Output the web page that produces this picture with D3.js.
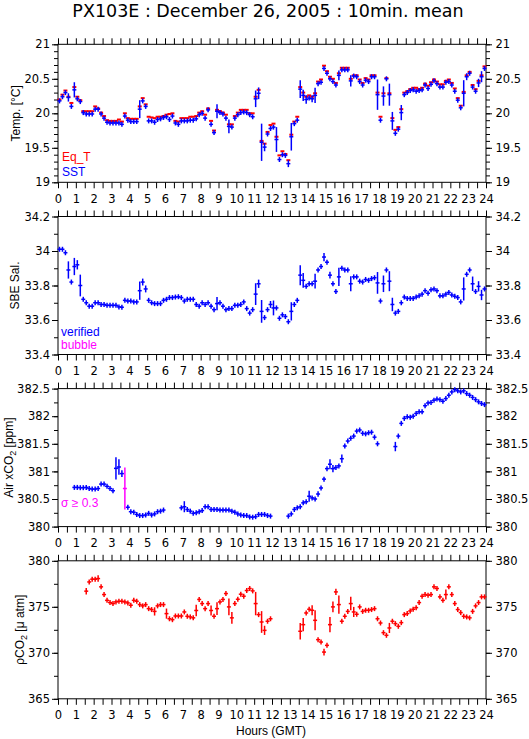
<!DOCTYPE html>
<html>
<head>
<meta charset="utf-8">
<title>PX103E : December 26, 2005 : 10min. mean</title>
<script src="https://cdn.jsdelivr.net/npm/d3@7"></script>
<style>
	body { margin: 0; background: #fff; }
	svg text { font-family: "DejaVu Sans", sans-serif; font-size: 11.5px; }
	svg text.lbl { font-family: "Liberation Sans", Arial, sans-serif; font-size: 12px; }
</style>
</head>
<body>
<script>

//---- DATA : 10 minute means, index i covers hours i/6 .. (i+1)/6 ----//

var hourTicks = d3.range(0, 25);

// equilibrator temperature (red) and sea surface temperature (blue)
var eqT = [
	20.20, 20.27, 20.33, 20.24, 20.15, 20.38, 20.24, 20.19, 20.03, 20.03, 20.03, 20.03,
	20.10, 20.07, 20.01, 19.96, 19.90, 19.89, 19.89, 19.89, 19.91, 19.88, 20.00, 19.93,
	19.92, 19.92, 19.92, 20.10, 20.22, 20.13, 19.95, 19.94, 19.93, 19.95, 19.95, 19.96,
	19.98, 19.99, 20.00, 19.89, 19.88, 19.93, 19.93, 19.93, 19.95, 19.95, 19.96, 20.01,
	20.03, 19.98, 20.07, 19.89, 19.75, 20.05, 20.03, 20.01, 19.98, 19.84, 19.84, 19.96,
	20.01, 20.05, 20.05, 20.05, 20.00, 20.00, 20.24, 20.34, 19.60, 19.56, 19.73, 19.83,
	19.85, 19.66, 19.39, 19.45, 19.41, 19.32, 19.69, 19.88, 19.95, 20.38, 20.30, 20.24,
	20.26, 20.24, 20.29, 20.46, 20.49, 20.69, 20.61, 20.53, 20.50, 20.44, 20.58, 20.66,
	20.66, 20.66, 20.50, 20.55, 20.55, 20.49, 20.44, 20.51, 20.49, 20.55, 20.55, 20.30,
	19.95, 20.29, 20.51, 20.29, 19.93, 19.76, 19.80, 20.06, 20.30, 20.32, 20.35, 20.37,
	20.37, 20.35, 20.37, 20.43, 20.40, 20.45, 20.49, 20.46, 20.42, 20.42, 20.47, 20.49,
	20.44, 20.36, 20.22, 20.11, 20.31, 20.55, 20.60, 20.41, 20.35, 20.47, 20.55, 20.68
];
var sst = [
	20.18, 20.24, 20.30, 20.23, 20.10, 20.34, 20.21, 20.17, 20.01, 19.99, 19.99, 19.99,
	20.06, 20.06, 19.99, 19.93, 19.87, 19.86, 19.86, 19.86, 19.86, 19.84, 19.96, 19.90,
	19.88, 19.88, 19.88, 20.06, 20.18, 20.10, 19.89, 19.89, 19.87, 19.91, 19.92, 19.94,
	19.95, 19.91, 19.96, 19.86, 19.84, 19.89, 19.89, 19.89, 19.90, 19.90, 19.92, 19.98,
	20.00, 19.93, 20.05, 19.84, 19.72, 20.03, 20.01, 19.99, 19.93, 19.81, 19.80, 19.93,
	19.98, 20.01, 20.02, 20.01, 19.98, 19.95, 20.21, 20.29, 19.58, 19.51, 19.70, 19.78,
	19.80, 19.62, 19.33, 19.40, 19.39, 19.27, 19.66, 19.85, 19.90, 20.35, 20.26, 20.20,
	20.22, 20.21, 20.26, 20.43, 20.45, 20.65, 20.58, 20.50, 20.46, 20.41, 20.55, 20.63,
	20.63, 20.63, 20.47, 20.54, 20.53, 20.46, 20.41, 20.48, 20.46, 20.53, 20.53, 20.27,
	19.90, 20.25, 20.50, 20.27, 19.89, 19.71, 19.77, 20.01, 20.27, 20.30, 20.33, 20.34,
	20.32, 20.33, 20.34, 20.41, 20.36, 20.42, 20.47, 20.43, 20.38, 20.38, 20.45, 20.46,
	20.41, 20.32, 20.19, 20.08, 20.29, 20.53, 20.58, 20.38, 20.32, 20.44, 20.53, 20.65
];
// [index, standard deviation] where the spread is larger than the marker
var sstSd = [[3,0.06],[5,0.11],[27,0.13],[53,0.10],[57,0.10],[66,0.12],[67,0.085],[68,0.27],
	[69,0.06],[73,0.18],[77,0.05],[78,0.2],[81,0.13],[82,0.08],[83,0.06],[85,0.05],[86,0.11],
	[94,0.07],[98,0.08],[107,0.22],[109,0.14],[111,0.16],[112,0.13],[115,0.11],[136,0.19],
	[137,0.05],[141,0.06],[142,0.08]];

// SBE salinity
var sal = [
	34.01, 34.01, 33.99, 33.89, 33.82, 33.91, 33.92, 33.80, 33.72, 33.70, 33.68, 33.68,
	33.70, 33.70, 33.69, 33.69, 33.685, 33.685, 33.685, 33.685, 33.676, 33.674, 33.714, 33.71,
	33.71, 33.705, 33.705, 33.77, 33.82, 33.78, 33.714, 33.70, 33.695, 33.695, 33.695, 33.714,
	33.72, 33.73, 33.73, 33.733, 33.735, 33.73, 33.71, 33.72, 33.72, 33.72, 33.69, 33.68,
	33.70, 33.69, 33.70, 33.68, 33.66, 33.695, 33.70, 33.68, 33.66, 33.666, 33.666, 33.685,
	33.685, 33.69, 33.705, 33.666, 33.64, 33.66, 33.75, 33.81, 33.65, 33.614, 33.66, 33.69,
	33.67, 33.67, 33.61, 33.63, 33.62, 33.59, 33.65, 33.69, 33.714, 33.86, 33.83, 33.795,
	33.81, 33.81, 33.825, 33.89, 33.91, 33.965, 33.935, 33.86, 33.81, 33.765, 33.85, 33.90,
	33.89, 33.89, 33.81, 33.85, 33.85, 33.825, 33.82, 33.835, 33.83, 33.84, 33.845, 33.815,
	33.71, 33.81, 33.89, 33.825, 33.69, 33.64, 33.65, 33.70, 33.733, 33.725, 33.725, 33.725,
	33.733, 33.74, 33.75, 33.77, 33.755, 33.775, 33.78, 33.77, 33.74, 33.74, 33.75, 33.76,
	33.745, 33.737, 33.73, 33.705, 33.78, 33.865, 33.89, 33.81, 33.765, 33.795, 33.745, 33.78
];
var salSd = [[3,0.05],[5,0.05],[6,0.027],[7,0.063],[27,0.053],[28,0.02],[29,0.02],[53,0.039],
	[66,0.063],[67,0.024],[68,0.066],[71,0.02],[72,0.043],[78,0.053],[81,0.058],[82,0.043],
	[86,0.043],[89,0.024],[91,0.02],[94,0.053],[98,0.043],[107,0.063],[109,0.048],[111,0.058],
	[112,0.039],[136,0.067],[139,0.042],[141,0.03],[142,0.03]];

// air xCO2 (ppm)
var xco2 = [
	null, null, null, null, null, 380.71, 380.71, 380.705, 380.705, 380.71, 380.69, 380.68,
	380.68, 380.69, 380.77, 380.77, 380.73, 380.69, 380.65, 381.055, 381.08, 380.96, 380.69, 380.35,
	380.27, 380.26, 380.22, 380.20, 380.20, 380.21, 380.24, 380.21, 380.23, 380.27, 380.28, 380.30,
	null, null, null, null, null, 380.34, 380.36, 380.31, 380.28, 380.24, 380.25, 380.27,
	380.29, 380.36, 380.36, 380.31, 380.31, 380.31, 380.30, 380.30, 380.30, 380.30, 380.28, 380.26,
	380.23, 380.21, 380.20, 380.20, 380.175, 380.17, 380.18, 380.22, 380.22, 380.22, 380.20, 380.19,
	null, null, null, null, null, 380.19, 380.23, 380.31, 380.34, 380.36, 380.43, 380.45,
	380.55, 380.52, 380.50, 380.59, 380.70, 380.86, 381.05, 381.13, 381.05, 381.07, 381.10, 381.23,
	381.46, 381.55, 381.60, 381.64, 381.73, 381.75, 381.69, 381.68, 381.70, 381.71, 381.62, 381.50,
	null, null, null, null, null, 381.45, 381.64, 381.87, 381.96, 381.99, 381.98, 382.00,
	382.05, 382.08, 382.08, 382.19, 382.24, 382.25, 382.29, 382.31, 382.30, 382.27, 382.32, 382.38,
	382.44, 382.48, 382.46, 382.44, 382.46, 382.41, 382.38, 382.34, 382.30, 382.26, 382.23, 382.21
];
var xco2Sd = [[19,0.2],[20,0.14],[21,0.06],[22,0.38],[42,0.1],[84,0.1],[87,0.05],[91,0.09],
	[92,0.065],[95,0.075],[113,0.085]];
var sigmaLimit = 0.3;

// pCO2 (micro atm)
var pco2 = [
	null, null, null, null, null, null, null, null, null, 376.7, 377.7, 378.0,
	378.0, 378.07, 377.17, 376.33, 375.7, 375.46, 375.35, 375.53, 375.6, 375.6, 375.53, 375.42,
	375.17, 375.7, 375.6, 375.24, 375.1, 375.24, 374.8, 374.7, 374.5, 375.1, 375.24, 375.24,
	374.26, 373.7, 373.6, 374.0, 374.0, 374.0, 374.44, 373.97, 373.9, 373.8, 374.6, 375.8,
	375.35, 374.8, 375.35, 374.6, 373.97, 374.8, 375.53, 375.8, 376.44, 374.99, 373.8, 375.35,
	375.82, 376.37, 376.15, 376.77, 376.99, 376.73, 375.35, 374.15, 373.35, 372.44, 373.43, 373.7,
	null, null, null, null, null, null, null, null, null, 372.34, 373.06, 374.33,
	374.73, 374.62, 373.53, 371.43, 371.17, 370.08, 370.81, 373.06, 374.99, 376.62, 375.24, 373.43,
	373.97, 374.5, 375.35, 374.44, 374.19, 374.99, 374.5, 374.62, 374.62, 374.7, 374.8, 373.7,
	373.24, 372.19, 371.9, 372.7, 373.43, 373.17, 372.88, 373.28, 374.15, 374.26, 374.55, 374.73,
	374.91, 375.46, 376.15, 376.33, 376.26, 376.33, 377.17, 376.99, 376.08, 375.7, 376.33, 377.17,
	376.33, 375.35, 374.7, 374.37, 373.97, 373.9, 373.8, 374.5, 375.1, 375.46, 376.08, 376.08
];
var pco2Sd = [[9,0.35],[13,0.36],[32,0.45],[36,0.55],[46,0.62],[51,0.55],[53,0.69],[57,0.9],
	[58,0.64],[66,1.27],[68,1.18],[69,0.5],[81,0.9],[82,0.73],[85,0.55],[86,1.09],[89,0.36],
	[91,0.82],[92,0.58],[93,0.33],[94,1.0],[98,0.73],[99,0.55],[111,0.55],[130,0.55]];

//---- LAYOUT ----//

var svg = d3.select("body").append("svg").attr("width", 529).attr("height", 739);
var x = d3.scaleLinear().domain([0, 24]).range([58, 486]);
var panelH = 138;
var halfHours = d3.range(0, 49).map(function(j) { return j / 2; });
var fmt = d3.format("~g");

svg.append("text")
	.attr("x", 268).attr("y", 16.5)
	.attr("text-anchor", "middle")
	.style("font-size", "17.5px")
	.text("PX103E : December 26, 2005 : 10min. mean");

svg.append("text").attr("class", "lbl")
	.attr("x", 271).attr("y", 735)
	.attr("text-anchor", "middle")
	.text("Hours (GMT)");

function steps(lo, hi, step) {
	var n = Math.round((hi - lo) / step);
	return d3.range(0, n + 1).map(function(j) { return +(lo + j * step).toFixed(4); });
}

function clean(g) {
	g.select(".domain").remove();
	g.attr("font-family", null).attr("font-size", null);
}

// frame, ticks and labels of one panel
function makePanel(top, domain, major, minor, titleX, titleParts) {
	var bottom = top + panelH;
	var y = d3.scaleLinear().domain(domain).range([bottom, top]);
	var g = svg.append("g");
	var majors = steps(domain[0], domain[1], major);
	var minors = steps(domain[0], domain[1], minor);

	g.append("g").attr("transform", "translate(0," + top + ")")
		.call(d3.axisTop(x).tickValues(halfHours).tickSize(6).tickFormat("")).call(clean);
	g.append("g").attr("transform", "translate(0," + bottom + ")")
		.call(d3.axisBottom(x).tickValues(halfHours).tickSize(6).tickFormat("")).call(clean);
	g.append("g").attr("transform", "translate(0," + bottom + ")")
		.call(d3.axisBottom(x).tickValues(hourTicks).tickSize(0).tickPadding(12.5).tickFormat(fmt)).call(clean);

	g.append("g").attr("transform", "translate(" + x(0) + ",0)")
		.call(d3.axisLeft(y).tickValues(minors).tickSize(4).tickFormat("")).call(clean);
	g.append("g").attr("transform", "translate(" + x(0) + ",0)")
		.call(d3.axisLeft(y).tickValues(majors).tickSize(6).tickPadding(2).tickFormat(fmt)).call(clean);
	g.append("g").attr("transform", "translate(" + x(24) + ",0)")
		.call(d3.axisRight(y).tickValues(minors).tickSize(4).tickFormat("")).call(clean);
	g.append("g").attr("transform", "translate(" + x(24) + ",0)")
		.call(d3.axisRight(y).tickValues(majors).tickSize(6).tickPadding(3.5).tickFormat(fmt)).call(clean);

	g.append("rect")
		.attr("x", x(0)).attr("y", top)
		.attr("width", x(24) - x(0)).attr("height", panelH)
		.attr("fill", "none").attr("stroke", "#000");

	var t = g.append("text").attr("class", "lbl")
		.attr("transform", "translate(" + titleX + "," + (top + panelH / 2) + ") rotate(-90)")
		.attr("text-anchor", "middle");
	titleParts.forEach(function(p) {
		t.append("tspan")
			.attr("dy", p.sub ? 3 : (p.after ? -3 : 0))
			.style("font-size", p.sub ? "9px" : null)
			.text(p.s);
	});
	return y;
}

function toPoints(vals, sds) {
	var sd = vals.map(function() { return 0; });
	sds.forEach(function(p) { sd[p[0]] = p[1]; });
	return vals.map(function(v, i) { return {i: i, v: v, sd: sd[i]}; })
		.filter(function(d) { return d.v !== null; });
}

// one "+" per 10 min mean: bar across the interval, vertical line for +- sd
function drawCrosses(y, pts, color) {
	var g = svg.append("g").attr("stroke-width", 1.5).attr("fill", "none");
	g.selectAll("line.h").data(pts).enter().append("line")
		.attr("stroke", color)
		.attr("x1", function(d) { return x(d.i / 6) - 0.5; })
		.attr("x2", function(d) { return x((d.i + 1) / 6) + 0.5; })
		.attr("y1", function(d) { return y(d.v); })
		.attr("y2", function(d) { return y(d.v); });
	g.selectAll("line.v").data(pts).enter().append("line")
		.attr("stroke", color)
		.attr("x1", function(d) { return x((d.i + 0.5) / 6); })
		.attr("x2", function(d) { return x((d.i + 0.5) / 6); })
		.attr("y1", function(d) { return Math.min(y(d.v + d.sd), y(d.v) - 2.5); })
		.attr("y2", function(d) { return Math.max(y(d.v - d.sd), y(d.v) + 2.5); });
}

function drawDashes(y, vals, color) {
	var pts = toPoints(vals, []);
	svg.append("g").selectAll("line").data(pts).enter().append("line")
		.attr("stroke", color).attr("stroke-width", 2)
		.attr("x1", function(d) { return x(d.i / 6) - 0.5; })
		.attr("x2", function(d) { return x((d.i + 1) / 6) + 0.5; })
		.attr("y1", function(d) { return y(d.v); })
		.attr("y2", function(d) { return y(d.v); });
}

function legend(lx, ly, txt, color) {
	svg.append("text").attr("class", "lbl")
		.attr("x", lx).attr("y", ly).attr("fill", color).text(txt);
}

//---- PANELS ----//

var y1 = makePanel(44.3, [19, 21], 0.5, 0.1, 20, [{s: "Temp. [°C]"}]);
drawDashes(y1, eqT, "#ff0000");
drawCrosses(y1, toPoints(sst, sstSd), "#0000ff");
legend(62, 161, "Eq_T", "#ff0000");
legend(62, 176, "SST", "#0000ff");

var y2 = makePanel(216.5, [33.4, 34.2], 0.2, 0.1, 19, [{s: "SBE Sal."}]);
drawCrosses(y2, toPoints(sal, salSd), "#0000ff");
legend(61, 336, "verified", "#0000ff");
legend(61, 349, "bubble", "#ff00ff");

var y3 = makePanel(388.6, [380, 382.5], 0.5, 0.25, 13,
	[{s: "Air xCO"}, {s: "2", sub: true}, {s: " [ppm]", after: true}]);
var air = toPoints(xco2, xco2Sd);
drawCrosses(y3, air.filter(function(d) { return d.sd < sigmaLimit; }), "#0000ff");
drawCrosses(y3, air.filter(function(d) { return d.sd >= sigmaLimit; }), "#ff00ff");
legend(61, 507, "σ ≥ 0.3", "#ff00ff");

var y4 = makePanel(560.8, [365, 380], 5, 2.5, 24,
	[{s: "ρCO"}, {s: "2", sub: true}, {s: " [μ atm]", after: true}]);
drawCrosses(y4, toPoints(pco2, pco2Sd), "#ff0000");

</script>
</body>
</html>
